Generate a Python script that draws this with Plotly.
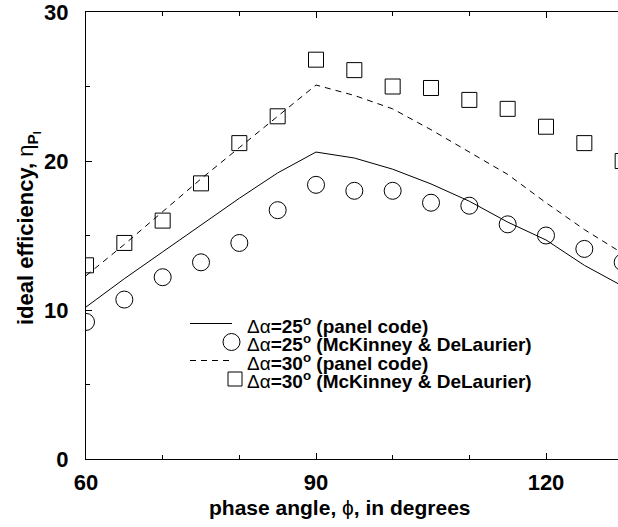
import plotly.graph_objects as go

# phase angle (degrees)
phi = [60, 65, 70, 75, 80, 85, 90, 95, 100, 105, 110, 115, 120, 125, 130]

# Δα = 25°, panel code (solid line)
eta25_panel = [10.2, 12.1, 13.9, 15.7, 17.5, 19.2, 20.6, 20.2, 19.45, 18.46, 17.3, 15.9, 14.7, 13.0, 11.6]
# Δα = 25°, McKinney & DeLaurier (circles)
eta25_mck = [9.2, 10.7, 12.2, 13.2, 14.5, 16.7, 18.4, 18.0, 18.0, 17.2, 17.0, 15.75, 15.0, 14.1, 13.2]
# Δα = 30°, panel code (dashed line)
eta30_panel = [12.3, 14.4, 16.6, 18.8, 20.9, 23.0, 25.1, 24.4, 23.5, 22.1, 20.6, 19.1, 17.2, 15.4, 13.8]
# Δα = 30°, McKinney & DeLaurier (squares)
eta30_mck = [13.0, 14.5, 16.0, 18.5, 21.2, 23.0, 26.8, 26.1, 25.0, 24.9, 24.1, 23.5, 22.3, 21.2, 20.0]

x_ticks = [60, 90, 120]
y_ticks = [0, 10, 20, 30]

legend_labels = [
    "<span style='font-weight:normal'>Δα</span>=25<sup>o</sup> (panel code)",
    "<span style='font-weight:normal'>Δα</span>=25<sup>o</sup> (McKinney & DeLaurier)",
    "<span style='font-weight:normal'>Δα</span>=30<sup>o</sup> (panel code)",
    "<span style='font-weight:normal'>Δα</span>=30<sup>o</sup> (McKinney & DeLaurier)",
]

FONT = "Liberation Sans, Arial, Helvetica, sans-serif"

fig = go.Figure()
fig.add_trace(go.Scatter(
    x=phi, y=eta25_panel, mode="lines",
    line=dict(color="black", width=1), name=legend_labels[0]))
fig.add_trace(go.Scatter(
    x=phi, y=eta25_mck, mode="markers",
    marker=dict(symbol="circle-open", size=17, color="black", line=dict(width=1, color="black")),
    name=legend_labels[1]))
fig.add_trace(go.Scatter(
    x=phi, y=eta30_panel, mode="lines",
    line=dict(color="black", width=1, dash="6px,5px"), name=legend_labels[2]))
fig.add_trace(go.Scatter(
    x=phi, y=eta30_mck, mode="markers",
    marker=dict(symbol="square-open", size=15, color="black", line=dict(width=1, color="black")),
    name=legend_labels[3]))

L, R, T, B = 86, 0, 12, 68
W, H = 618, 527
pw = W - L - R
ph = H - T - B
px_per_deg = 230 / 30.0
x_max = 60 + pw / px_per_deg

def px2paper_x(px):
    return (px - L) / pw

def py2paper_y(py):
    return (H - B - py) / ph

# ---- hand-built legend (keys + text) in paper coordinates ----
leg_text_x = 245
leg_row_y = [323.5, 342.0, 360.5, 379.0]
shapes = []
annotations = []
for i, lab in enumerate(legend_labels):
    yy = leg_row_y[i]
    annotations.append(dict(
        text=lab, xref="paper", yref="paper",
        x=px2paper_x(leg_text_x), y=py2paper_y(yy + 1), xanchor="left", yanchor="middle",
        showarrow=False, font=dict(family=FONT, size=19, color="black", weight="bold")))
# solid key
shapes.append(dict(type="line", xref="paper", yref="paper",
                   x0=px2paper_x(190), x1=px2paper_x(232), y0=py2paper_y(leg_row_y[0]), y1=py2paper_y(leg_row_y[0]),
                   line=dict(color="black", width=1)))
# circle key
cr = 8.5
shapes.append(dict(type="circle", xref="paper", yref="paper",
                   x0=px2paper_x(231.5 - cr), x1=px2paper_x(231.5 + cr),
                   y0=py2paper_y(leg_row_y[1] + cr), y1=py2paper_y(leg_row_y[1] - cr),
                   line=dict(color="black", width=1)))
# dashed key
shapes.append(dict(type="line", xref="paper", yref="paper",
                   x0=px2paper_x(190), x1=px2paper_x(232), y0=py2paper_y(leg_row_y[2]), y1=py2paper_y(leg_row_y[2]),
                   line=dict(color="black", width=1, dash="6px,5px")))
# square key
sr = 7
shapes.append(dict(type="rect", xref="paper", yref="paper",
                   x0=px2paper_x(235 - sr), x1=px2paper_x(235 + sr),
                   y0=py2paper_y(leg_row_y[3] + sr), y1=py2paper_y(leg_row_y[3] - sr),
                   line=dict(color="black", width=1)))

annotations += [
    dict(text="phase angle, <span style='font-weight:normal'>ϕ</span>, in degrees", xref="paper", yref="paper",
         x=px2paper_x(339.5), y=py2paper_y(507), xanchor="center", yanchor="middle",
         showarrow=False, font=dict(family=FONT, size=21, color="black", weight="bold")),
    dict(text="ideal efficiency, <span style='font-weight:normal'>η</span><sub>P<sub>I</sub></sub>",
         xref="paper", yref="paper",
         x=px2paper_x(28), y=py2paper_y(327), xanchor="center", yanchor="bottom",
         textangle=-90, showarrow=False,
         font=dict(family=FONT, size=22, color="black", weight="bold")),
]

fig.update_layout(
    width=W, height=H,
    margin=dict(l=L, r=R, t=T, b=B, pad=0),
    paper_bgcolor="white", plot_bgcolor="white",
    font=dict(family=FONT, color="black"),
    showlegend=False,
    xaxis=dict(
        range=[60, x_max], tickmode="array", tickvals=x_ticks,
        ticktext=[str(v) for v in x_ticks],
        showgrid=False, zeroline=False,
        showline=True, linecolor="black", linewidth=1, mirror="ticks",
        ticks="inside", ticklen=6, tickwidth=1, tickcolor="black",
        minor=dict(dtick=10, tick0=60, ticks="inside", ticklen=4, tickwidth=1, tickcolor="black", showgrid=False),
        tickfont=dict(family=FONT, size=22, color="black", weight="bold"),
        ticklabelstandoff=4,
    ),
    yaxis=dict(
        range=[0, 30], tickmode="array", tickvals=y_ticks,
        ticktext=[str(v) for v in y_ticks],
        showgrid=False, zeroline=False,
        showline=True, linecolor="black", linewidth=1, mirror=False,
        ticks="inside", ticklen=6, tickwidth=1, tickcolor="black",
        minor=dict(dtick=5, tick0=0, ticks="inside", ticklen=4, tickwidth=1, tickcolor="black", showgrid=False),
        tickfont=dict(family=FONT, size=22, color="black", weight="bold"),
        ticklabelstandoff=12, ticklabeloverflow="allow",
    ),
    shapes=shapes,
    annotations=annotations,
)

fig.write_html("out.html")
